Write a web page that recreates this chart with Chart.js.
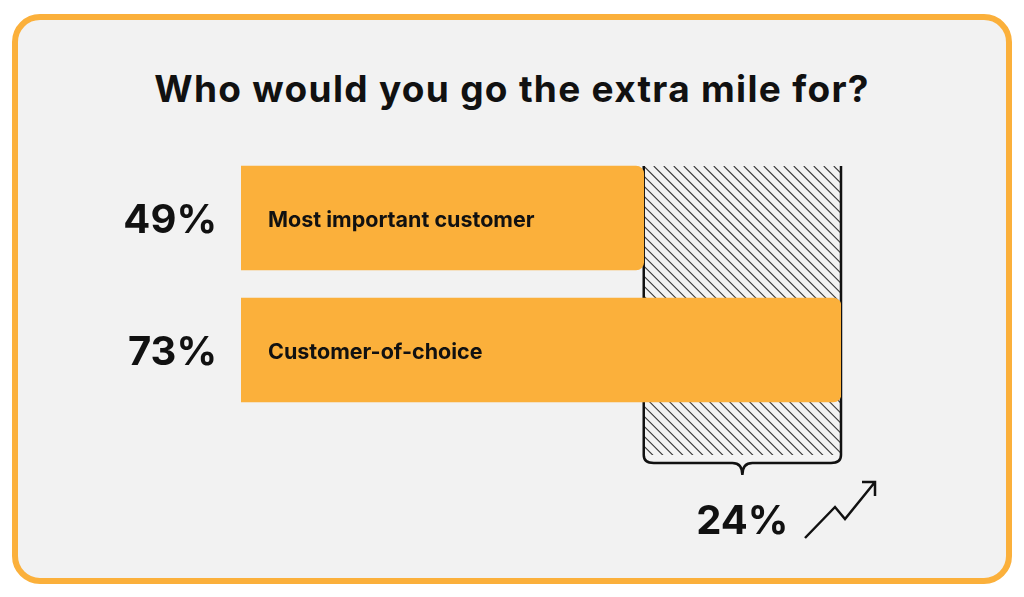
<!DOCTYPE html>
<html><head><meta charset="utf-8">
<script src="https://cdn.jsdelivr.net/npm/chart.js@4"></script>
<style>
body{margin:0;width:1024px;height:597px;background:#fff;overflow:hidden;font-family:Inter,sans-serif}
.card{position:absolute;left:12px;top:14px;width:988px;height:558px;border:6px solid #fbb03b;border-radius:28px;background:#f2f2f2}
h1{position:absolute;left:0;top:66px;width:1024px;margin:0;text-align:center;font-size:37px;font-weight:700;color:#111;letter-spacing:1.3px}
canvas{position:absolute;left:0;top:0}
</style></head><body>
<div class="card"></div>
<h1>Who would you go the extra mile for?</h1>
<div style="position:absolute;left:0;top:0;width:1024px;height:597px"><canvas id="c"></canvas></div>
<script>
const categories = ['Most important customer', 'Customer-of-choice'];
const values = [49, 73];
const diffLabel = '24%';

const deco = {
  id: 'deco',
  beforeDatasetsDraw(chart) {
    const ctx = chart.ctx, x = chart.scales.x;
    const meta = chart.getDatasetMeta(0);
    const x0 = x.getPixelForValue(values[0]), x1 = x.getPixelForValue(values[1]);
    const top = meta.data[0].y - meta.data[0].height / 2, bot = 455;
    ctx.save();
    ctx.beginPath(); ctx.rect(x0, top, x1 - x0, bot - top); ctx.clip();
    ctx.strokeStyle = '#333'; ctx.lineWidth = 1.1;
    for (let s = -400; s < 400; s += 10) {
      ctx.beginPath(); ctx.moveTo(x0 + s, top); ctx.lineTo(x0 + s + 400, top + 400); ctx.stroke();
    }
    ctx.restore();
    ctx.save();
    ctx.strokeStyle = '#111'; ctx.lineWidth = 2.5;
    ctx.beginPath(); ctx.moveTo(x0, top); ctx.lineTo(x0, bot);
    ctx.moveTo(x1, top); ctx.lineTo(x1, bot); ctx.stroke();
    const mid = (x0 + x1) / 2;
    ctx.beginPath();
    ctx.moveTo(x0, bot);
    ctx.quadraticCurveTo(x0, bot + 8, x0 + 10, bot + 8);
    ctx.lineTo(mid - 10, bot + 8);
    ctx.quadraticCurveTo(mid, bot + 8, mid, bot + 20);
    ctx.quadraticCurveTo(mid, bot + 8, mid + 10, bot + 8);
    ctx.lineTo(x1 - 10, bot + 8);
    ctx.quadraticCurveTo(x1, bot + 8, x1, bot);
    ctx.stroke();
    ctx.restore();
  },
  afterDatasetsDraw(chart) {
    const ctx = chart.ctx, x = chart.scales.x;
    const meta = chart.getDatasetMeta(0);
    ctx.save();
    ctx.fillStyle = '#111'; ctx.textBaseline = 'middle';
    meta.data.forEach((b, i) => {
      ctx.font = '700 40px Inter'; ctx.textAlign = 'right';
      ctx.fillText(values[i] + '%', 217, b.y + 3);
      ctx.font = '700 21.5px Inter'; ctx.textAlign = 'left';
      ctx.fillText(categories[i], 268, b.y + 3);
    });
    const mid = (x.getPixelForValue(values[0]) + x.getPixelForValue(values[1])) / 2;
    ctx.font = '700 40px Inter'; ctx.textAlign = 'center';
    ctx.fillText(diffLabel, mid, 522);
    ctx.strokeStyle = '#111'; ctx.lineWidth = 2.5;
    ctx.beginPath();
    ctx.moveTo(805, 538); ctx.lineTo(835, 507); ctx.lineTo(845, 519); ctx.lineTo(875, 482);
    ctx.moveTo(862, 482); ctx.lineTo(875, 482); ctx.lineTo(875, 496);
    ctx.stroke();
    ctx.restore();
  }
};

new Chart(document.getElementById('c'), {
  type: 'bar',
  data: { labels: categories, datasets: [{ data: values, backgroundColor: '#fbb03b', barThickness: 104,
    borderRadius: { topRight: 8, bottomRight: 8, topLeft: 0, bottomLeft: 0 }, borderSkipped: false }] },
  options: {
    indexAxis: 'y', responsive: true, maintainAspectRatio: false, animation: false,
    layout: { padding: { left: 241, right: 183, top: 152, bottom: 181 } },
    scales: { x: { min: 0, max: 73, display: false }, y: { display: false } },
    plugins: { legend: { display: false }, tooltip: { enabled: false } }
  },
  plugins: [deco]
});
</script>
</body></html>
